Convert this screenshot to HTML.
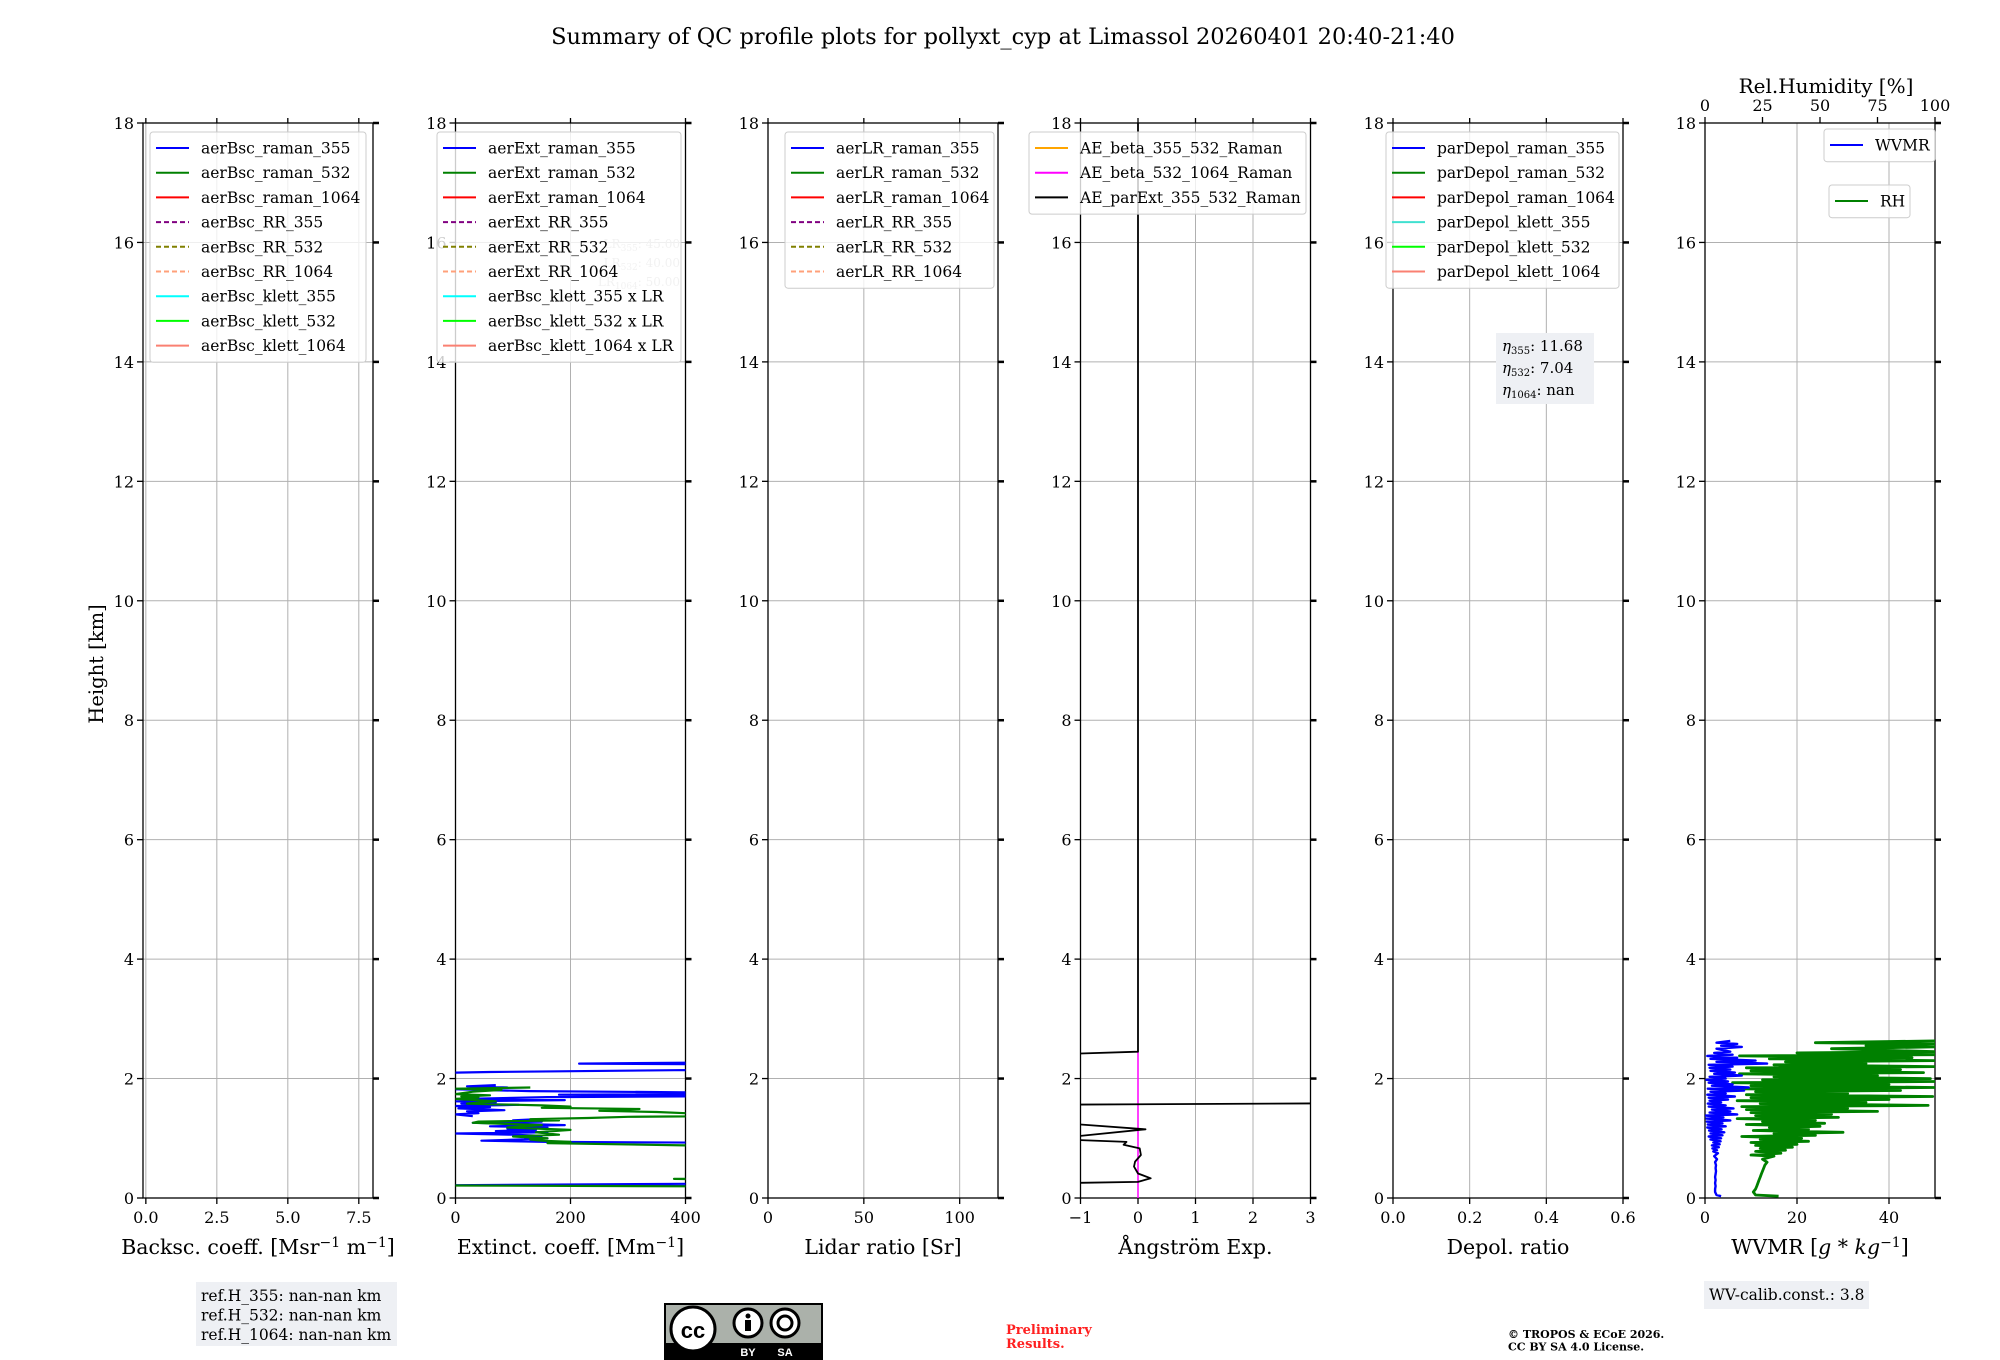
<!DOCTYPE html>
<html><head><meta charset="utf-8"><style>
body{margin:0;background:#fff}
svg{display:block;font-family:"DejaVu Serif","Liberation Serif",serif}
</style></head><body>
<svg id="fig" width="2000" height="1360" viewBox="0 0 2000 1360" xmlns="http://www.w3.org/2000/svg">
<text x="1003" y="44" font-size="22.5" text-anchor="middle">Summary of QC profile plots for pollyxt_cyp at Limassol 20260401 20:40-21:40</text>
<text transform="translate(103,664) rotate(-90)" font-size="19.5" text-anchor="middle">Height [km]</text>
<g id="panels"></g>
</svg>
<script>
// ---- data ----
const heightTicks = [0,2,4,6,8,10,12,14,16,18];
const p1Ticks = [0,2.5,5,7.5];
const p1TickLabels = ["0.0","2.5","5.0","7.5"];
const p2Ticks = [0,200,400];
const p3Ticks = [0,50,100];
const p4Ticks = [-1,0,1,2,3];
const p4TickLabels = ["\u22121","0","1","2","3"];
const p5Ticks = [0,0.2,0.4,0.6];
const p5TickLabels = ["0.0","0.2","0.4","0.6"];
const p6Ticks = [0,20,40];
const rhTicks = [0,25,50,75,100];

const ext355H = [2.28,2.25,2.23,2.16,2.14,2.11,2.10,2.0,1.89,1.87,1.85,1.82,1.79,1.77,1.75,1.73,1.71,1.69,1.66,1.64,1.62,1.60,1.58,1.56,1.54,1.52,1.50,1.47,1.45,1.42,1.40,1.37,1.34,1.32,1.30,1.28,1.26,1.24,1.22,1.20,1.18,1.16,1.14,1.12,1.10,1.08,1.06,1.04,1.02,1.00,0.98,0.96,0.94,0.92,0.5,0.25,0.215,0.20];
const ext355V = [600,215,600,600,380,60,0,null,70,20,90,0,130,400,600,180,600,160,20,190,0,70,10,110,0,60,5,85,20,40,0,30,null,140,100,150,30,110,190,60,160,90,140,70,160,0,100,150,120,160,110,45,160,600,null,600,0,600];
const ext532H = [1.85,1.83,1.81,1.78,1.74,1.72,1.70,1.68,1.66,1.62,1.58,1.55,1.53,1.51,1.49,1.46,1.44,1.42,1.38,1.36,1.34,1.32,1.30,1.28,1.26,1.22,1.18,1.14,1.10,1.06,1.03,1.00,0.98,0.96,0.94,0.92,0.88,0.86,0.6,0.34,0.32,0.30,0.25,0.21,0.19];
const ext532V = [130,0,80,30,0,60,10,40,0,70,20,150,200,150,320,250,350,400,600,300,230,130,180,40,30,150,90,200,140,180,100,160,130,150,200,160,400,600,null,600,380,600,null,0,600];

const aeH = [18,2.45,2.36,2.0,1.555,1.585,1.4,1.23,1.15,1.04,0.99,0.97,0.94,0.89,0.83,0.72,0.61,0.525,0.41,0.33,0.27,0.255,0.2];
const aeV = [0,0,-3,null,-3,3.5,null,-1,0.13,-1,-3,-1,-0.2,-0.25,0.03,0.05,-0.05,-0.07,0,0.22,0,-1,-3];
const aeBetaH = [0,2.45];
const aeBetaV = [0,0];

const wvH = [0.03,0.05,0.10,0.15,0.20,0.25,0.30,0.35,0.40,0.45,0.50,0.55,0.60,0.65,0.70,0.75,0.78,0.80,0.83,0.85,0.88,0.90,0.93,0.95,0.98,1.00,1.03,1.05,1.08,1.10,1.13,1.15,1.18,1.20,1.23,1.25,1.28,1.30,1.33,1.35,1.38,1.40,1.43,1.45,1.48,1.50,1.53,1.55,1.58,1.60,1.63,1.65,1.68,1.70,1.73,1.75,1.78,1.80,1.83,1.85,1.88,1.90,1.93,1.95,1.98,2.00,2.03,2.05,2.08,2.10,2.13,2.15,2.18,2.20,2.23,2.25,2.28,2.30,2.33,2.35,2.38,2.40,2.43,2.45,2.50,2.53,2.55,2.58,2.60,2.63];
const wvV = [3.5,2.5,2.2,2.2,2.3,2.2,2.3,2.2,2.3,2.4,2.3,2.4,2.2,2.6,2.0,2.8,1.8,2.6,1.6,3.0,1.5,3.2,1.8,3.4,1.2,3.5,0.8,3.8,1.2,4.2,0.9,3.6,0.5,4.5,0.6,3.8,0.4,5.5,0.3,4.0,0.2,7.0,1.0,5.5,1.5,6.2,0.8,4.5,0.6,3.5,1.0,5.0,0.8,6.5,0.5,4.5,1.2,8.5,0.6,9.5,1.5,6.0,0.8,5.0,0.3,4.5,1.0,8.0,2.0,6.5,1.2,5.5,1.0,6.0,0.8,13.5,2.5,11.0,1.2,7.0,0.5,6.0,2.0,5.5,2.5,8.0,3.5,7.0,2.5,5.5];
const rhH = [0.03,0.05,0.10,0.15,0.20,0.25,0.30,0.35,0.40,0.45,0.50,0.55,0.60,0.65,0.70,0.72,0.75,0.78,0.80,0.83,0.85,0.88,0.90,0.93,0.95,0.98,1.00,1.03,1.05,1.08,1.10,1.13,1.15,1.18,1.20,1.23,1.25,1.28,1.30,1.33,1.35,1.38,1.40,1.43,1.45,1.48,1.50,1.53,1.55,1.58,1.60,1.63,1.65,1.68,1.70,1.73,1.75,1.78,1.80,1.83,1.85,1.88,1.90,1.93,1.95,1.98,2.00,2.03,2.05,2.08,2.10,2.13,2.15,2.18,2.20,2.23,2.25,2.28,2.30,2.33,2.35,2.38,2.40,2.43,2.45,2.50,2.53,2.55,2.58,2.60,2.63];
const rhV = [32,22,21,22,22.5,23,23.5,24,24.5,25,25.5,26,27,25,30,20,33,22,35,24,38,22,40,20,45,24,42,16,48,30,60,21,45,28,50,18,52,25,48,14,58,22,55,20,75,18,62,16,97,24,70,14,80,20,99,18,62,22,85,12,100,20,80,12,100,25,98,30,75,15,95,20,85,18,100,30,70,35,100,28,90,15,100,40,100,55,100,70,100,48,100];

// ---- layout ----
const NS = "http://www.w3.org/2000/svg";
const LEFTS = [143,455.5,768,1080.5,1393,1705];
const W = 230, TOP = 123, BOT = 1198;
const py = h => BOT - h*(BOT-TOP)/18;
const lims = [[-0.1,8],[0,400],[0,120],[-1,3],[0,0.6],[0,50]];
const px = (i,v) => LEFTS[i] + (v-lims[i][0])/(lims[i][1]-lims[i][0])*W;
const pxRH = v => LEFTS[5] + v/100*W;
const root = document.getElementById('panels');
function mk(tag, attrs, parent){const e=document.createElementNS(NS,tag);for(const k in attrs)e.setAttribute(k,attrs[k]);(parent||root).appendChild(e);return e;}

const xTickSets = [
 [p1Ticks,p1TickLabels],[p2Ticks,p2Ticks.map(String)],[p3Ticks,p3Ticks.map(String)],
 [p4Ticks,p4TickLabels],[p5Ticks,p5TickLabels],[p6Ticks,p6Ticks.map(String)]];
const xTitles = ['Backsc. coeff. [Msr<tspan dy="-7" font-size="14">\u22121</tspan><tspan dy="7"> m</tspan><tspan dy="-7" font-size="14">\u22121</tspan><tspan dy="7">]</tspan>',
 'Extinct. coeff. [Mm<tspan dy="-7" font-size="14">\u22121</tspan><tspan dy="7">]</tspan>',
 'Lidar ratio [Sr]','\u00c5ngstr\u00f6m Exp.','Depol. ratio',
 'WVMR [<tspan font-style="italic">g</tspan> * <tspan font-style="italic">kg</tspan><tspan dy="-7" font-size="14">\u22121</tspan><tspan dy="7">]</tspan>'];
const panelNames = ['backscatter','extinction','lidar-ratio','angstrom','depol','wvmr'];

for(let i=0;i<6;i++){
  const L = LEFTS[i], R = L+W;
  const g = mk('g',{});
  
  
  const cp = mk('clipPath',{id:'clip'+i},g); mk('rect',{x:L,y:TOP,width:W,height:BOT-TOP},cp);
  for(const h of heightTicks){ mk('line',{x1:L,x2:R,y1:py(h),y2:py(h),stroke:'#b0b0b0','stroke-width':1},g); }
  const [tk,tl] = xTickSets[i];
  tk.forEach((v,j)=>{
    const x=px(i,v);
    mk('line',{x1:x,x2:x,y1:TOP,y2:BOT,stroke:'#b0b0b0','stroke-width':1},g);
    mk('line',{x1:x,x2:x,y1:BOT,y2:BOT+6,stroke:'#000','stroke-width':1.3},g);
    if(i<5) mk('line',{x1:x,x2:x,y1:TOP,y2:TOP-5,stroke:'#000','stroke-width':1.3},g);
    const t=mk('text',{x:x,y:BOT+25,'font-size':16,'text-anchor':'middle'},g); t.textContent=tl[j];
    
    
  });
  for(const h of heightTicks){
    const y=py(h);
    mk('line',{x1:L-6,x2:L,y1:y,y2:y,stroke:'#000','stroke-width':1.3},g);
    mk('line',{x1:R,x2:R+6,y1:y,y2:y,stroke:'#000','stroke-width':2.5},g);
    const t=mk('text',{x:L-9,y:y+6,'font-size':16,'text-anchor':'end'},g); t.textContent=String(h);
    
    
  }
  mk('rect',{x:L,y:TOP,width:W,height:BOT-TOP,fill:'none',stroke:'#000','stroke-width':1.3},g);
  const xt=mk('text',{x:L+W/2,y:1254,'font-size':20.5,'text-anchor':'middle'},g); xt.innerHTML=xTitles[i];
  
  
}

function series(i, H, V, color, width, name, xfn){
  const g = mk('g',{'clip-path':'url(#clip'+i+')'});
  
  
  let d='', pen=false;
  for(let k=0;k<H.length;k++){
    if(V[k]===null){pen=false;continue;}
    const x = xfn?xfn(V[k]):px(i,V[k]), y=py(H[k]);
    d += (pen?'L':'M')+x.toFixed(1)+' '+y.toFixed(1)+' ';
    pen=true;
  }
  mk('path',{d:d,fill:'none',stroke:color,'stroke-width':width,'stroke-linejoin':'round'},g);
}
series(1, ext355H, ext355V, '#0000ff', 2.2, 'aerExt-raman-355-line');
series(1, ext532H, ext532V, '#008000', 2.2, 'aerExt-raman-532-line');
series(3, aeBetaH, aeBetaV, '#ff00ff', 1.5, 'ae-beta-532-1064-line');
series(3, aeH, aeV, '#000000', 1.8, 'ae-parExt-355-532-line');
series(5, rhH, rhV, '#008000', 2.8, 'rh-line', pxRH);
series(5, wvH, wvV, '#0000ff', 2.4, 'wvmr-line');

rhTicks.forEach(v=>{
  const x=pxRH(v);
  mk('line',{x1:x,x2:x,y1:TOP,y2:TOP-6,stroke:'#000','stroke-width':1.3});
  const t=mk('text',{x:x,y:111,'font-size':16,'text-anchor':'middle'}); t.textContent=String(v);
  
  
});
const rht=mk('text',{x:1826,y:93,'font-size':20,'text-anchor':'middle'}); rht.textContent='Rel.Humidity [%]';



['LR<tspan font-size="9" dy="3">355</tspan><tspan dy="-3">: 45.00</tspan>','LR<tspan font-size="9" dy="3">532</tspan><tspan dy="-3">: 40.00</tspan>','LR<tspan font-size="9" dy="3">1064</tspan><tspan dy="-3">: 50.00</tspan>'].forEach((s,k)=>{
  const t=mk('text',{x:680,y:248+k*19,'font-size':12,'text-anchor':'end',fill:'#bbbbbb'}); t.innerHTML=s;
  
  
});

function legend(x,y,w,entries,name){
  const g=mk('g',{});
  
  
  mk('rect',{x:x,y:y,width:w,height:entries.length*24.7+8,rx:3,fill:'rgba(255,255,255,0.8)',stroke:'#cccccc','stroke-width':1},g);
  entries.forEach((e,k)=>{
    const cy=y+16+k*24.7;
    mk('line',{x1:x+6,x2:x+39,y1:cy,y2:cy,stroke:e[1],'stroke-width':2,'stroke-dasharray':e[2]?'5,3':'none'},g);
    const t=mk('text',{x:x+51,y:cy+5.5,'font-size':15.5},g); t.textContent=e[0];
    
    
  });
}
legend(150,132,216,[['aerBsc_raman_355','#0000ff'],['aerBsc_raman_532','#008000'],['aerBsc_raman_1064','#ff0000'],['aerBsc_RR_355','#800080',1],['aerBsc_RR_532','#808000',1],['aerBsc_RR_1064','#ffa07a',1],['aerBsc_klett_355','#00ffff'],['aerBsc_klett_532','#00ff00'],['aerBsc_klett_1064','#fa8072']],'backscatter-legend');
legend(437,132,244,[['aerExt_raman_355','#0000ff'],['aerExt_raman_532','#008000'],['aerExt_raman_1064','#ff0000'],['aerExt_RR_355','#800080',1],['aerExt_RR_532','#808000',1],['aerExt_RR_1064','#ffa07a',1],['aerBsc_klett_355 x LR','#00ffff'],['aerBsc_klett_532 x LR','#00ff00'],['aerBsc_klett_1064 x LR','#fa8072']],'extinction-legend');
legend(785,132,209,[['aerLR_raman_355','#0000ff'],['aerLR_raman_532','#008000'],['aerLR_raman_1064','#ff0000'],['aerLR_RR_355','#800080',1],['aerLR_RR_532','#808000',1],['aerLR_RR_1064','#ffa07a',1]],'lidar-ratio-legend');
legend(1029,132,277,[['AE_beta_355_532_Raman','#ffa500'],['AE_beta_532_1064_Raman','#ff00ff'],['AE_parExt_355_532_Raman','#000000']],'angstrom-legend');
legend(1386,132,233,[['parDepol_raman_355','#0000ff'],['parDepol_raman_532','#008000'],['parDepol_raman_1064','#ff0000'],['parDepol_klett_355','#40e0d0'],['parDepol_klett_532','#00ff00'],['parDepol_klett_1064','#fa8072']],'depol-legend');
legend(1824,129,111,[['WVMR','#0000ff']],'wvmr-legend');
legend(1829,185,81,[['RH','#008000']],'rh-legend');

mk('rect',{x:1496,y:333,width:98,height:71,fill:'#eef0f4'});
['355: 11.68','532: 7.04','1064: nan'].forEach((s,k)=>{
  const p=s.split(':');
  const t=mk('text',{x:1502,y:351+k*22,'font-size':15});
  t.innerHTML='<tspan font-style="italic">\u03b7</tspan><tspan font-size="10" dy="3">'+p[0]+'</tspan><tspan dy="-3">:'+p[1]+'</tspan>';
  
  
});

mk('rect',{x:196,y:1282,width:201,height:64,fill:'#eef0f4'});
['ref.H_355: nan-nan km','ref.H_532: nan-nan km','ref.H_1064: nan-nan km'].forEach((s,k)=>{
  const t=mk('text',{x:201,y:1301+k*19.5,'font-size':15.5}); t.textContent=s;
  
  
});
mk('rect',{x:1704,y:1281,width:165,height:28,fill:'#eef0f4'});
const wv=mk('text',{x:1709,y:1300,'font-size':15.5}); wv.textContent='WV-calib.const.: 3.8';



const cc=mk('g',{});


mk('rect',{x:665,y:1304,width:157,height:55,fill:'#abb1aa',stroke:'#000','stroke-width':2},cc);
mk('rect',{x:665,y:1343,width:157,height:16,fill:'#000'},cc);
mk('circle',{cx:693,cy:1329,r:22,fill:'#fff',stroke:'#000','stroke-width':3},cc);
const cct=mk('text',{x:693,y:1338,'font-size':22,'font-weight':'bold','text-anchor':'middle','font-family':'Liberation Sans, sans-serif'},cc); cct.textContent='cc';
mk('circle',{cx:748,cy:1323,r:14,fill:'#fff',stroke:'#000','stroke-width':3},cc);
mk('circle',{cx:748,cy:1316,r:2.5,fill:'#000'},cc);
mk('rect',{x:745,y:1320,width:6,height:11,fill:'#000'},cc);
mk('circle',{cx:785,cy:1323,r:14,fill:'#fff',stroke:'#000','stroke-width':3},cc);
mk('circle',{cx:785,cy:1323,r:7,fill:'none',stroke:'#000','stroke-width':3},cc);
[['BY',748],['SA',785]].forEach(a=>{const t=mk('text',{x:a[1],y:1356,'font-size':11,'font-weight':'bold',fill:'#fff','text-anchor':'middle','font-family':'Liberation Sans, sans-serif'},cc);t.textContent=a[0];});

['Preliminary','Results.'].forEach((s,k)=>{
  const t=mk('text',{x:1006,y:1334+k*14,'font-size':13,'font-weight':'bold',fill:'#ff2020'}); t.textContent=s;
  
  
});
['\u00a9 TROPOS & ECoE 2026.','CC BY SA 4.0 License.'].forEach((s,k)=>{
  const t=mk('text',{x:1508,y:1338+k*12.5,'font-size':11,'font-weight':'bold'}); t.textContent=s;
  
  
});
</script>
</body></html>
